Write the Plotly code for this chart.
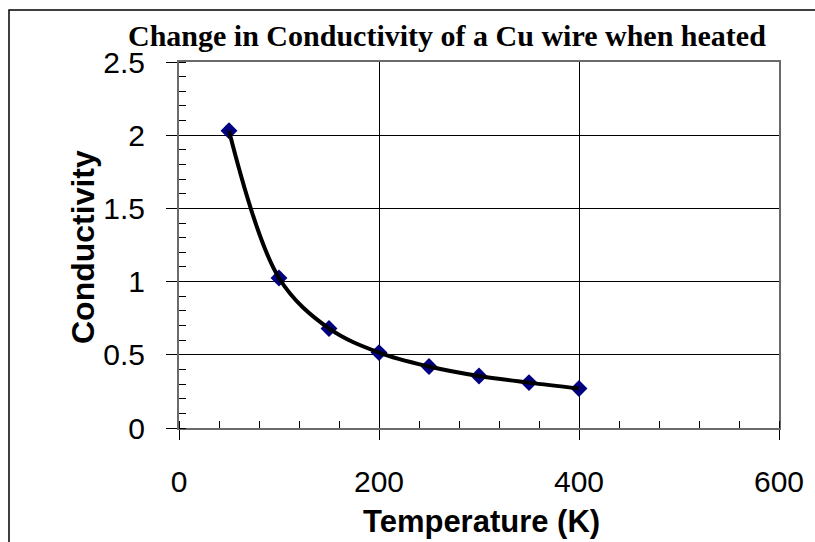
import plotly.graph_objects as go

temperature = [50, 100, 150, 200, 250, 300, 350, 400]
conductivity = [2.03, 1.025, 0.68, 0.515, 0.42, 0.355, 0.31, 0.27]

x_ticks = [0, 200, 400, 600]
y_ticks = [0, 0.5, 1, 1.5, 2, 2.5]
y_tick_labels = ["0", "0.5", "1", "1.5", "2", "2.5"]

title_text = "Change in Conductivity of a Cu wire when heated"
x_title = "Temperature (K)"
y_title = "Conductivity"

W, H = 815, 542
L, R, T, B = 179, 36, 62, 114
PW, PH = W - L - R, H - T - B


def px(x):
    return (x - L) / PW


def py(y):
    return (H - B - y) / PH


fig = go.Figure()
fig.add_trace(go.Scatter(
    x=temperature, y=conductivity, mode="markers",
    marker=dict(symbol="diamond", size=13, color="#000080",
                line=dict(width=0)),
    showlegend=False, hoverinfo="x+y"))
fig.add_trace(go.Scatter(
    x=temperature, y=conductivity, mode="lines", line_shape="spline",
    line=dict(color="black", width=4),
    showlegend=False, hoverinfo="skip"))

tickfont = dict(family="Liberation Sans, Arial, sans-serif", size=30, color="black")

fig.update_xaxes(
    range=[0, 600], tickvals=x_ticks, ticktext=[str(v) for v in x_ticks],
    showgrid=True, gridcolor="black", gridwidth=1,
    zeroline=False, showline=True, linecolor="#6a6a6a", linewidth=2, mirror=True,
    ticks="outside", ticklen=10, tickcolor="black", tickwidth=1,
    minor=dict(dtick=40, tick0=0, ticks="inside", ticklen=7, tickcolor="black",
               tickwidth=1, showgrid=False),
    tickfont=tickfont, ticklabelstandoff=16, fixedrange=True)
fig.update_yaxes(
    range=[0, 2.5], tickvals=y_ticks, ticktext=y_tick_labels,
    showgrid=True, gridcolor="black", gridwidth=1,
    zeroline=False, showline=True, linecolor="#6a6a6a", linewidth=2, mirror=True,
    ticks="outside", ticklen=11, tickcolor="black", tickwidth=1,
    minor=dict(dtick=0.1, tick0=0, ticks="inside", ticklen=7, tickcolor="black",
               tickwidth=1, showgrid=False),
    tickfont=tickfont, ticklabelstandoff=15, fixedrange=True)

fig.add_annotation(
    text="<b>" + title_text + "</b>", xref="paper", yref="paper",
    x=px(447), y=py(35), xanchor="center", yanchor="middle", showarrow=False,
    font=dict(family="Liberation Serif, Times New Roman, serif", size=30, color="black"))
fig.add_annotation(
    text="<b>" + x_title + "</b>", xref="paper", yref="paper",
    x=px(481), y=py(521), xanchor="center", yanchor="middle", showarrow=False,
    font=dict(family="Liberation Sans, Arial, sans-serif", size=31, color="black"))
fig.add_annotation(
    text="<b>" + y_title + "</b>", xref="paper", yref="paper",
    x=px(83), y=py(247), xanchor="center", yanchor="middle", showarrow=False,
    textangle=-90,
    font=dict(family="Liberation Sans, Arial, sans-serif", size=32, color="black"))

fig.add_shape(type="rect", xref="paper", yref="paper",
              x0=px(9), x1=px(822), y0=py(552), y1=py(10),
              line=dict(color="black", width=1.5), layer="below")

fig.update_layout(
    width=W, height=H, margin=dict(l=L, r=R, t=T, b=B, autoexpand=False),
    paper_bgcolor="white", plot_bgcolor="white", showlegend=False)

fig.write_html(
    "out.html",
    config={"displayModeBar": False},
    post_script="document.body.style.margin='0px';document.body.style.overflow='hidden';")
